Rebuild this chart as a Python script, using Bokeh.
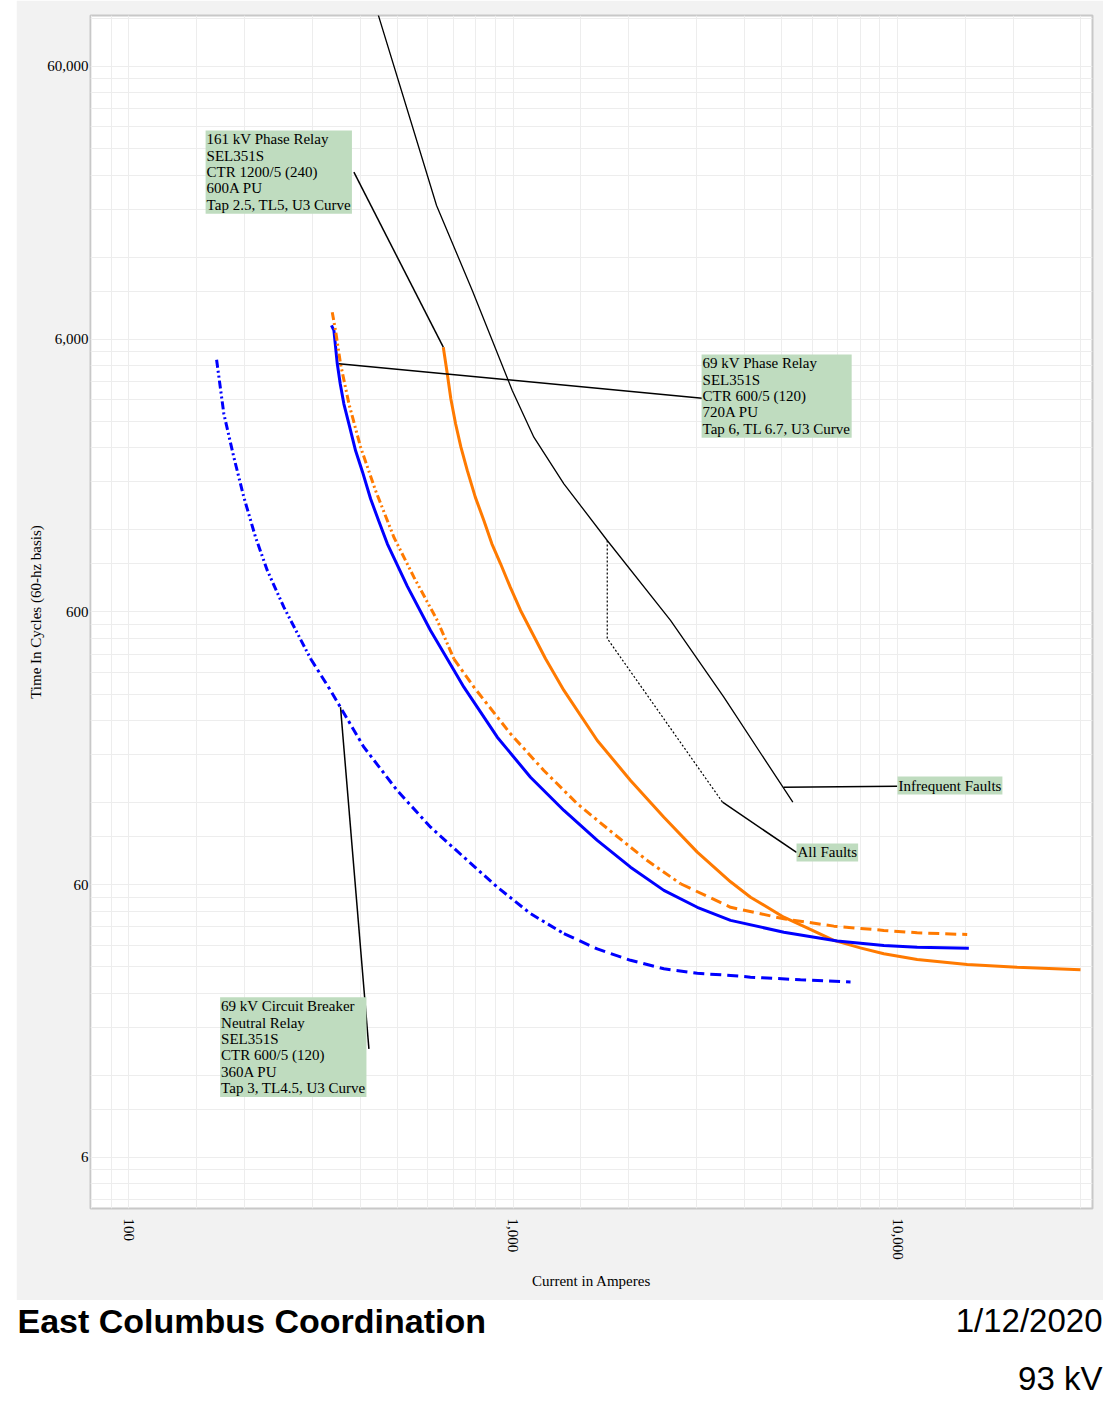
from bokeh.plotting import figure
from bokeh.models import Range1d, FixedTicker, Label, Spacer, NumeralTickFormatter
from bokeh.layouts import column, row
from bokeh.core.properties import value
from bokeh.embed import file_html
from bokeh.resources import INLINE

# ---------------- data (current in amperes, time in cycles) ----------------
x_ticks = [100, 1000, 10000]
y_ticks = [6, 60, 600, 6000, 60000]

blue_solid_i = [337, 342, 349, 355.2, 363, 375.0, 389.5, 406.1, 426, 446.9, 471, 531, 610, 674, 745,
                910, 1110, 1356, 1656, 2021, 2468, 3014, 3679, 5062, 6970, 9213, 11250, 15330]
blue_solid_t = [6740, 6462, 4877, 4120, 3479, 2897, 2340, 1953, 1560, 1299, 1067, 745, 513, 404, 318,
                208.5, 148.7, 112.3, 87.2, 69.6, 57.2, 49.6, 44.4, 40.2, 37.3, 35.9, 35.4, 35.1]

orange_dash_i = [338.6, 345.3, 355.8, 374.2, 401.3, 438.8, 489.8, 552.2, 635.3, 701.5, 791, 985,
                 1202.5, 1469, 1829, 2234, 2727, 3679, 5062, 6829, 9213, 11250, 15180]
orange_dash_t = [7541, 6462, 4877, 3479, 2412, 1674, 1128, 805, 558.6, 404.2, 318.1, 214.5,
                 157.4, 118.9, 92.2, 73.6, 60.5, 49.6, 45.0, 42.3, 40.8, 40.0, 39.4]

orange_solid_i = [658.5, 674.4, 688.9, 708.8, 731.8, 760.2, 797.6, 839.6, 880.9, 928, 983.4, 1046,
                  1215, 1356, 1656, 2021, 2468, 3014, 3679, 4147, 5062, 5800, 6829, 8000, 9213,
                  11250, 15180, 20480, 29920]
orange_solid_t = [5612, 4483, 3629, 2939, 2412, 1982, 1582, 1300, 1067, 901.3, 739.8, 607.8,
                  404.2, 309.4, 202.8, 144.7, 106.1, 79, 61.5, 54.0, 45.6, 41.8, 37.5, 35.2, 33.5,
                  31.9, 30.6, 29.9, 29.3]

blue_dash_i = [169.4, 176.9, 187.8, 199.4, 213.9, 229.5, 253.4, 297.5, 335.2, 409.3, 499.7, 610.3,
               744.8, 909.7, 1110.5, 1356, 1656, 2021, 2468, 3014, 3679, 4147, 5594, 7548]
blue_dash_t = [5044, 3198, 2217, 1582, 1128, 851.8, 624.9, 404.2, 309.4, 191.7, 132.9, 97.5,
               75.7, 58.8, 47.0, 39.7, 34.9, 31.7, 29.5, 28.4, 27.9, 27.5, 26.9, 26.4]

damage_i = [436, 541.4, 632.4, 783.4, 995.2, 1132.7, 1356, 1758, 2568, 3534, 5342]
damage_t = [103000, 38040, 18560, 9058, 3894, 2625, 1771, 1097, 558.6, 292.3, 120.4]

all_faults_i = [1758, 1758, 3507]
all_faults_t = [1097, 479.8, 120.4]

# leader lines: (I start, t start, I end, t end)
leaders = [
    (385.5, 24580, 658.5, 5612),     # 161 kV phase relay
    (352.3, 4877, 3106, 3648),       # 69 kV phase relay
    (355.8, 268.6, 421.8, 15.0),     # 69 kV neutral relay
    (5053, 136.7, 9982, 137.9),      # infrequent faults
    (3507, 120.4, 5462, 78.8),       # all faults
]

# annotation texts and their top-left anchors (I, t)
notes = [
    ("161 kV Phase Relay\nSEL351S\nCTR 1200/5 (240)\n600A PU\nTap 2.5, TL5, U3 Curve", 158.6, 34960),
    ("69 kV Phase Relay\nSEL351S\nCTR 600/5 (120)\n720A PU\nTap 6, TL 6.7, U3 Curve", 3093, 5275),
    ("69 kV Circuit Breaker\nNeutral Relay\nSEL351S\nCTR 600/5 (120)\n360A PU\nTap 3, TL4.5, U3 Curve", 173, 23.2),
    ("Infrequent Faults", 10000, 149.6),
    ("All Faults", 5462, 85.0),
]

grid_mant = [1, 1.5, 2, 3, 4, 5, 6, 7, 8, 9]
grid_x = [m * 10 ** k for k in range(1, 5) for m in grid_mant]
grid_y = [m * 6 * 10 ** k for k in range(-1, 5) for m in grid_mant]

# ---------------- figure ----------------
ORANGE = "#ff7a00"
BLUE = "#0000ff"

p = figure(width=1087, height=1300, x_axis_type="log", y_axis_type="log",
           x_range=Range1d(79.6, 32150), y_range=Range1d(3.9, 92280),
           output_backend="svg", toolbar_location=None, title=None,
           min_border_left=74, min_border_right=11, min_border_top=15, min_border_bottom=92,
           background_fill_color="white", border_fill_color="#f2f2f2")
p.outline_line_color = "#c8c8c8"
p.outline_line_width = 2

for ax, ticks in ((p.xaxis[0], x_ticks), (p.yaxis[0], y_ticks)):
    ax.ticker = FixedTicker(ticks=ticks)
    ax.formatter = NumeralTickFormatter(format="0,0")
    ax.axis_line_color = None
    ax.major_tick_line_color = None
    ax.minor_tick_line_color = None
    ax.major_tick_out = 0
    ax.minor_tick_out = 0
    ax.major_label_text_font = "Liberation Serif"
    ax.major_label_text_font_size = "15px"
    ax.major_label_text_color = "black"
    ax.axis_label_text_font = "Liberation Serif"
    ax.axis_label_text_font_size = "15px"
    ax.axis_label_text_font_style = "normal"
    ax.axis_label_text_color = "black"

p.xaxis.axis_label = "Current in Amperes"
p.yaxis.axis_label = "Time In Cycles (60-hz basis)"
p.xaxis.major_label_orientation = "vertical"
p.xaxis.major_label_standoff = 10
p.xaxis.axis_label_standoff = 10
p.yaxis.major_label_standoff = 2
p.yaxis.axis_label_standoff = 0

p.xgrid.ticker = FixedTicker(ticks=grid_x)
p.ygrid.ticker = FixedTicker(ticks=grid_y)
p.xgrid.grid_line_color = "#ededed"
p.ygrid.grid_line_color = "#ededed"

# damage curves
p.line(damage_i, damage_t, line_color="black", line_width=1.3)
p.line(all_faults_i, all_faults_t, line_color="black", line_width=1.2, line_dash="2 2")

# relay curves
p.line(orange_solid_i, orange_solid_t, line_color=ORANGE, line_width=3)
p.line(blue_solid_i, blue_solid_t, line_color=BLUE, line_width=3)

p.line(orange_dash_i[:10], orange_dash_t[:10], line_color=ORANGE, line_width=3, line_dash="8 3 2 3 2 3")
p.line(orange_dash_i[9:17], orange_dash_t[9:17], line_color=ORANGE, line_width=3, line_dash="9 4 3 4")
p.line(orange_dash_i[16:], orange_dash_t[16:], line_color=ORANGE, line_width=3, line_dash="11 6")

p.line(blue_dash_i[:8], blue_dash_t[:8], line_color=BLUE, line_width=3, line_dash="8 3 2 3 2 3")
p.line(blue_dash_i[7:16], blue_dash_t[7:16], line_color=BLUE, line_width=3, line_dash="9 4 3 4")
p.line(blue_dash_i[15:], blue_dash_t[15:], line_color=BLUE, line_width=3, line_dash="11 6")

# leader lines
p.segment(x0=[l[0] for l in leaders], y0=[l[1] for l in leaders],
          x1=[l[2] for l in leaders], y1=[l[3] for l in leaders],
          line_color="black", line_width=1.5)

for txt, xi, yt in notes:
    p.add_layout(Label(x=xi, y=yt, text=txt, text_font="Liberation Serif", text_font_size="15px",
                       text_color="black", text_align="left", text_baseline="top",
                       text_line_height=1.02, background_fill_color="#bfdcbf",
                       padding=1))

# ---------------- footer ----------------
f = figure(width=1103, height=108, x_range=Range1d(0, 1103), y_range=Range1d(0, 108),
           x_axis_type=None, y_axis_type=None, output_backend="svg", toolbar_location=None,
           title=None, min_border=0, outline_line_color=None, background_fill_color="white",
           border_fill_color="white")
f.grid.visible = False
f.text(x=[17], y=[88], text=["East Columbus Coordination"], text_font=value("Liberation Sans"),
       text_font_style="bold", text_font_size="34px", text_baseline="alphabetic", text_color="black")
f.text(x=[1102, 1102], y=[88, 30], text=["1/12/2020", "93 kV"], text_font=value("Liberation Sans"),
       text_font_size="33px", text_align="right", text_baseline="alphabetic", text_color="black")

layout = column(row(Spacer(width=16, height=1300), p), f)
open("out.html", "w").write(file_html(layout, INLINE))
